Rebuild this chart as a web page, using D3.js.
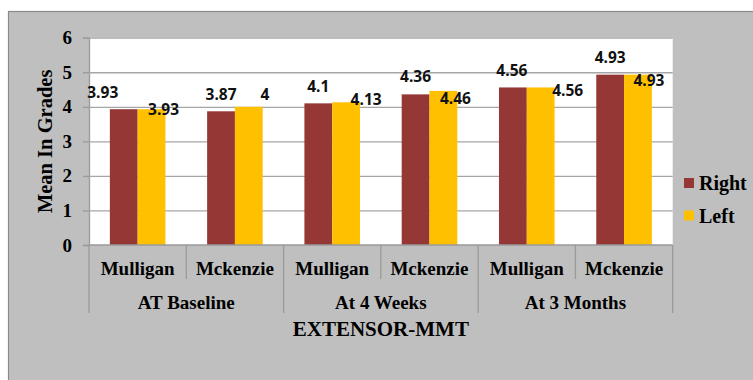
<!DOCTYPE html>
<html>
<head>
<meta charset="utf-8">
<script src="https://cdn.jsdelivr.net/npm/d3@7"></script>
<style>
  html, body { margin: 0; padding: 0; background: #ffffff; }
  svg { display: block; }
  .serif { font-family: "Liberation Serif", "DejaVu Serif", serif; font-weight: bold; }
  .sans { font-family: "Open Sans", "Noto Sans", sans-serif; font-weight: bold; }
</style>
</head>
<body>
<script>
// ---- data ----
const timepoints = ["AT Baseline", "At 4 Weeks", "At 3 Months"];
const techniques = ["Mulligan", "Mckenzie"];
const seriesNames = ["Right", "Left"];
const rightValues = [3.93, 3.87, 4.1, 4.36, 4.56, 4.93];
const leftValues  = [3.93, 4, 4.13, 4.46, 4.56, 4.93];
const yTicks = [0, 1, 2, 3, 4, 5, 6];
const xTitle = "EXTENSOR-MMT";
const yTitle = "Mean In Grades";

// ---- layout ----
const W = 753, H = 380;
const plot = { left: 89, right: 672.7, top: 37.7, bottom: 245 };
const colors = { Right: "#953735", Left: "#ffc000" };
// hand-placed data label offsets (dx, dy from bar top centre)
const labelNudge = {
  Right: [[-21, -17.5], [0, -17.5], [0, -17.5], [0, -18], [-1, -17.5], [0, -18]],
  Left:  [[12, 0], [16, -13], [20, -3], [12, 7], [27, 3], [11, 5]]
};

// one bar group per (timepoint, technique)
const groups = [];
timepoints.forEach(t => techniques.forEach(m => groups.push({ t, m })));
const rows = groups.map((g, i) => ({ ...g, i, Right: rightValues[i], Left: leftValues[i] }));

const svg = d3.select("body").append("svg")
  .attr("width", W).attr("height", H);

// outer chart frame
svg.append("rect")
  .attr("x", 8.5).attr("y", 11.5).attr("width", 800).attr("height", 400)
  .attr("fill", "#bfbfbf").attr("stroke", "#8a8a8a").attr("stroke-width", 1.2);

// plot area
svg.append("rect")
  .attr("x", plot.left).attr("y", plot.top)
  .attr("width", plot.right - plot.left).attr("height", plot.bottom - plot.top)
  .attr("fill", "#ffffff");

const x0 = d3.scaleBand()
  .domain(rows.map(r => r.i))
  .range([plot.left, plot.right])
  .paddingInner(0).paddingOuter(0);
const x1 = d3.scaleBand()
  .domain(seriesNames)
  .range([0, x0.bandwidth()])
  .paddingInner(0).paddingOuter(0.75);
const y = d3.scaleLinear().domain([0, 6]).range([plot.bottom, plot.top]);

// gridlines + y axis
const yAxis = d3.axisLeft(y).tickValues(yTicks).tickSize(6).tickPadding(11)
  .tickFormat(d3.format("d"));
const gy = svg.append("g").attr("transform", `translate(${plot.left},0)`).call(yAxis);
gy.attr("font-family", null).attr("font-size", null);
gy.select(".domain").attr("stroke", "#9a9a9a").attr("stroke-width", 1.3);
gy.selectAll(".tick line").attr("stroke", "#9a9a9a").attr("stroke-width", 1.3);
gy.selectAll(".tick text")
  .attr("class", "serif")
  .style("font-size", "19px").attr("fill", "#000");
gy.selectAll(".tick").filter(d => d > 0).append("line")
  .attr("x1", 0).attr("x2", plot.right - plot.left)
  .attr("stroke", "#a6a6a6").attr("stroke-width", 1.3);

// bars
const barG = svg.append("g").selectAll("g").data(rows).join("g")
  .attr("transform", d => `translate(${x0(d.i)},0)`);
barG.selectAll("rect")
  .data(d => seriesNames.map(s => ({ s, v: d[s], i: d.i })))
  .join("rect")
  .attr("x", d => x1(d.s))
  .attr("y", d => y(d.v))
  .attr("width", x1.bandwidth())
  .attr("height", d => y(0) - y(d.v))
  .attr("fill", d => colors[d.s]);

// data labels
barG.selectAll("text")
  .data(d => seriesNames.map(s => ({ s, v: d[s], i: d.i })))
  .join("text")
  .attr("class", "sans")
  .attr("x", d => x1(d.s) + x1.bandwidth() / 2 + labelNudge[d.s][d.i][0])
  .attr("y", d => y(d.v) + labelNudge[d.s][d.i][1])
  .attr("text-anchor", "middle")
  .attr("dominant-baseline", "central")
  .style("font-size", "15.5px").attr("fill", "#111")
  .text(d => String(d.v));

// x axis baseline
svg.append("line")
  .attr("x1", plot.left).attr("x2", plot.right)
  .attr("y1", plot.bottom).attr("y2", plot.bottom)
  .attr("stroke", "#9a9a9a").attr("stroke-width", 1.3);

// multi-level category axis
const lvl1Bottom = 279, lvl2Bottom = 313;
const axisG = svg.append("g");
rows.forEach((r, i) => {
  const xl = x0(r.i);
  axisG.append("line")
    .attr("x1", xl).attr("x2", xl)
    .attr("y1", plot.bottom).attr("y2", i % techniques.length === 0 ? lvl2Bottom : lvl1Bottom)
    .attr("stroke", "#9a9a9a").attr("stroke-width", 1.3);
  axisG.append("text")
    .attr("class", "serif")
    .attr("x", xl + x0.bandwidth() / 2).attr("y", 268)
    .attr("text-anchor", "middle").attr("dominant-baseline", "central")
    .style("font-size", "19px").attr("fill", "#000")
    .text(r.m);
});
axisG.append("line")
  .attr("x1", plot.right).attr("x2", plot.right)
  .attr("y1", plot.bottom).attr("y2", lvl2Bottom)
  .attr("stroke", "#9a9a9a").attr("stroke-width", 1.3);
timepoints.forEach((t, k) => {
  const first = x0(k * techniques.length);
  const span = x0.bandwidth() * techniques.length;
  axisG.append("text")
    .attr("class", "serif")
    .attr("x", first + span / 2).attr("y", 302)
    .attr("text-anchor", "middle").attr("dominant-baseline", "central")
    .style("font-size", "19px").attr("fill", "#000")
    .text(t);
});

// axis titles
svg.append("text")
  .attr("class", "serif")
  .attr("x", (plot.left + plot.right) / 2).attr("y", 329)
  .attr("text-anchor", "middle").attr("dominant-baseline", "central")
  .style("font-size", "21px").attr("fill", "#000")
  .text(xTitle);
svg.append("text")
  .attr("class", "serif")
  .attr("transform", `translate(45,${(plot.top + plot.bottom) / 2}) rotate(-90)`)
  .attr("text-anchor", "middle").attr("dominant-baseline", "central")
  .style("font-size", "20.5px").attr("fill", "#000")
  .text(yTitle);

// legend
const legend = svg.append("g").selectAll("g").data(seriesNames).join("g")
  .attr("transform", (d, i) => `translate(684,${183 + i * 32.5})`);
legend.append("rect")
  .attr("x", 0).attr("y", -5).attr("width", 10).attr("height", 10)
  .attr("fill", d => colors[d]);
legend.append("text")
  .attr("class", "serif")
  .attr("x", 15).attr("y", 0).attr("dominant-baseline", "central")
  .style("font-size", "20px").attr("fill", "#000")
  .text(d => d);
</script>
</body>
</html>
